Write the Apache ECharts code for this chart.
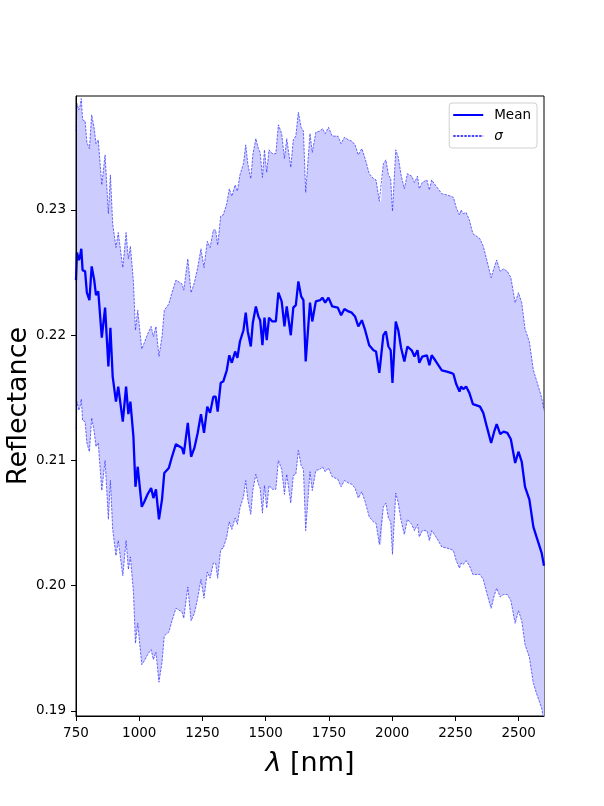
<!DOCTYPE html>
<html>
<head>
<meta charset="utf-8">
<script src="https://cdn.jsdelivr.net/npm/echarts@6/dist/echarts.min.js"></script>
<style>
  html, body { margin: 0; padding: 0; background: #fff; }
  #SpectrumChart { width: 604px; height: 806px; }
</style>
</head>
<body>
<div id="SpectrumChart"></div>
<script>
// wavelength [nm]
const wavelength = [
  750, 754, 761, 766, 771, 776, 786, 793, 803, 812,
  822, 829, 838, 852, 865, 878, 886, 895, 908, 917,
  935, 948, 957, 965, 977, 985, 994, 1010, 1020, 1033,
  1047, 1056, 1066, 1078, 1090, 1099, 1117, 1128, 1145, 1169,
  1176, 1192, 1205, 1218, 1231, 1244, 1256, 1269, 1280, 1293,
  1302, 1310, 1322, 1332, 1346, 1356, 1366, 1379, 1388, 1398,
  1412, 1421, 1429, 1441, 1449, 1461, 1471, 1478, 1487, 1495,
  1504, 1513, 1526, 1540, 1550, 1563, 1574, 1583, 1599, 1609,
  1619, 1629, 1640, 1649, 1658, 1675, 1684, 1698, 1715, 1724,
  1735, 1748, 1763, 1785, 1798, 1811, 1827, 1840, 1853, 1866,
  1880, 1893, 1909, 1926, 1936, 1949, 1956, 1965, 1975, 1985,
  1994, 2001, 2014, 2024, 2035, 2048, 2060, 2077, 2088, 2100,
  2107, 2119, 2137, 2147, 2156, 2170, 2196, 2216, 2232, 2242,
  2253, 2266, 2272, 2281, 2292, 2305, 2319, 2334, 2347, 2360,
  2374, 2391, 2403, 2413, 2427, 2440, 2455, 2469, 2486, 2499,
  2512, 2525, 2542, 2558, 2572, 2591, 2600
]

// mean reflectance
const meanRefl = [
  0.2244, 0.2266, 0.2260, 0.2263, 0.2269, 0.2252, 0.2251, 0.2234, 0.2228, 0.2255,
  0.2244, 0.2232, 0.2235, 0.2198, 0.2222, 0.2175, 0.2206, 0.2167, 0.2147, 0.2159,
  0.2131, 0.2159, 0.2137, 0.2147, 0.2119, 0.2079, 0.2095, 0.2063, 0.2067, 0.2073,
  0.2078, 0.2070, 0.2077, 0.2053, 0.2069, 0.2090, 0.2094, 0.2102, 0.2113, 0.2110,
  0.2105, 0.2130, 0.2103, 0.2110, 0.2122, 0.2137, 0.2122, 0.2143, 0.2138, 0.2151,
  0.2151, 0.2139, 0.2162, 0.2163, 0.2172, 0.2184, 0.2178, 0.2187, 0.2182, 0.2195,
  0.2204, 0.2218, 0.2203, 0.2191, 0.2210, 0.2223, 0.2215, 0.2212, 0.2192, 0.2214,
  0.2196, 0.2214, 0.2211, 0.2211, 0.2234, 0.2227, 0.2207, 0.2223, 0.2200, 0.2222,
  0.2224, 0.2243, 0.2231, 0.2228, 0.2179, 0.2226, 0.2211, 0.2227, 0.2228, 0.2230,
  0.2226, 0.2230, 0.2223, 0.2222, 0.2216, 0.2221, 0.2219, 0.2218, 0.2215, 0.2207,
  0.2212, 0.2204, 0.2192, 0.2188, 0.2187, 0.2170, 0.2170, 0.2200, 0.2203, 0.2191,
  0.2188, 0.2162, 0.2211, 0.2204, 0.2190, 0.2179, 0.2191, 0.2188, 0.2183, 0.2188,
  0.2178, 0.2183, 0.2184, 0.2176, 0.2184, 0.2180, 0.2172, 0.2171, 0.2170, 0.2169,
  0.2161, 0.2155, 0.2159, 0.2157, 0.2159, 0.2154, 0.2145, 0.2144, 0.2143, 0.2138,
  0.2127, 0.2114, 0.2123, 0.2129, 0.2121, 0.2123, 0.2122, 0.2117, 0.2098, 0.2107,
  0.2099, 0.2079, 0.2069, 0.2047, 0.2038, 0.2026, 0.2016
]

// standard deviation
const sigma = [
  0.0119, 0.0119, 0.0120, 0.0120, 0.0120, 0.0120, 0.0120, 0.0120, 0.0121, 0.0121,
  0.0121, 0.0121, 0.0121, 0.0122, 0.0122, 0.0122, 0.0122, 0.0122, 0.0123, 0.0123,
  0.0123, 0.0123, 0.0124, 0.0124, 0.0124, 0.0125, 0.0125, 0.0126, 0.0127, 0.0128,
  0.0129, 0.0129, 0.0130, 0.0130, 0.0130, 0.0130, 0.0131, 0.0131, 0.0131, 0.0131,
  0.0131, 0.0131, 0.0131, 0.0132, 0.0132, 0.0132, 0.0132, 0.0132, 0.0132, 0.0133,
  0.0133, 0.0133, 0.0133, 0.0133, 0.0133, 0.0133, 0.0133, 0.0133, 0.0133, 0.0133,
  0.0133, 0.0134, 0.0134, 0.0134, 0.0134, 0.0134, 0.0134, 0.0134, 0.0134, 0.0134,
  0.0134, 0.0134, 0.0134, 0.0134, 0.0134, 0.0134, 0.0134, 0.0134, 0.0134, 0.0134,
  0.0135, 0.0135, 0.0135, 0.0135, 0.0135, 0.0135, 0.0135, 0.0135, 0.0135, 0.0135,
  0.0135, 0.0136, 0.0136, 0.0137, 0.0137, 0.0137, 0.0137, 0.0137, 0.0137, 0.0137,
  0.0137, 0.0137, 0.0137, 0.0137, 0.0137, 0.0137, 0.0137, 0.0137, 0.0137, 0.0137,
  0.0137, 0.0137, 0.0137, 0.0138, 0.0138, 0.0138, 0.0138, 0.0139, 0.0139, 0.0139,
  0.0139, 0.0139, 0.0140, 0.0140, 0.0140, 0.0140, 0.0141, 0.0141, 0.0141, 0.0141,
  0.0141, 0.0141, 0.0141, 0.0140, 0.0139, 0.0138, 0.0136, 0.0135, 0.0134, 0.0133,
  0.0133, 0.0132, 0.0131, 0.0131, 0.0130, 0.0130, 0.0129, 0.0129, 0.0128, 0.0127,
  0.0127, 0.0126, 0.0126, 0.0125, 0.0125, 0.0124, 0.0124
]

const xTicks = [750, 1000, 1250, 1500, 1750, 2000, 2250, 2500]
const yTicks = [0.19, 0.20, 0.21, 0.22, 0.23]

const FONT = 'DejaVu Sans'

const upperRefl = meanRefl.map((m, i) => m + sigma[i])
const lowerRefl = meanRefl.map((m, i) => m - sigma[i])

const meanData = wavelength.map((w, i) => [w, meanRefl[i]])
const upperData = wavelength.map((w, i) => [w, upperRefl[i]])
const lowerData = wavelength.map((w, i) => [w, lowerRefl[i]])

const dashStyle = {
  color: 'rgba(40,40,255,0.85)',
  width: 0.8,
  type: [2.5, 1.2]
}

// filled band between mean - sigma and mean + sigma, placed with the axis scales
function renderBand(params, api) {
  const pts = []
  for (let i = 0; i < wavelength.length; i++) {
    pts.push(api.coord([wavelength[i], upperRefl[i]]))
  }
  for (let i = wavelength.length - 1; i >= 0; i--) {
    pts.push(api.coord([wavelength[i], lowerRefl[i]]))
  }
  return {
    type: 'polygon',
    shape: { points: pts },
    style: { fill: '#ccccff', stroke: null }
  }
}

const option = {
  animation: false,
  backgroundColor: '#fff',
  grid: {
    left: 76,
    right: 60,
    top: 96,
    bottom: 90,
    containLabel: false,
    outerBoundsMode: 'none',
    show: true,
    borderColor: '#000',
    borderWidth: 1,
    backgroundColor: 'transparent'
  },
  legend: {
    orient: 'vertical',
    right: 67,
    top: 103,
    data: [
      { name: 'Mean' },
      { name: 'σ', textStyle: { fontStyle: 'italic' } }
    ],
    itemWidth: 30,
    itemHeight: 12,
    itemGap: 7,
    padding: [5, 6, 5, 3],
    backgroundColor: 'rgba(255,255,255,0.8)',
    borderColor: '#d0d0d0',
    borderWidth: 1,
    borderRadius: 3,
    itemStyle: { opacity: 0 },
    textStyle: {
      fontFamily: FONT,
      fontSize: 13.5,
      color: '#000',
      padding: [0, 0, 0, 6]
    }
  },
  xAxis: {
    type: 'value',
    min: 750,
    max: 2600,
    name: '{i|λ} [nm]',
    nameLocation: 'middle',
    nameGap: 34,
    nameTextStyle: {
      fontFamily: FONT,
      fontSize: 27,
      color: '#000',
      rich: {
        i: { fontFamily: FONT, fontSize: 27, fontStyle: 'italic', color: '#000' }
      }
    },
    z: 5,
    axisLine: { show: true, lineStyle: { color: '#000', width: 1 } },
    axisTick: {
      show: true,
      length: 5,
      customValues: xTicks,
      lineStyle: { color: '#000', width: 1 }
    },
    axisLabel: {
      customValues: xTicks,
      margin: 10,
      fontFamily: FONT,
      fontSize: 13.5,
      color: '#000',
      formatter: v => String(v)
    },
    splitLine: { show: false }
  },
  yAxis: {
    type: 'value',
    min: 0.1896,
    max: 0.2391,
    name: 'Reflectance',
    nameLocation: 'middle',
    nameRotate: 90,
    nameGap: 44,
    nameMoveOverlap: false,
    nameTextStyle: {
      fontFamily: FONT,
      fontSize: 27,
      color: '#000'
    },
    z: 5,
    axisLine: { show: true, lineStyle: { color: '#000', width: 1 } },
    axisTick: {
      show: true,
      length: 5,
      customValues: yTicks,
      lineStyle: { color: '#000', width: 1 }
    },
    axisLabel: {
      customValues: yTicks,
      margin: 10,
      fontFamily: FONT,
      fontSize: 13.5,
      color: '#000',
      formatter: v => v.toFixed(2)
    },
    splitLine: { show: false }
  },
  series: [
    {
      name: 'band',
      type: 'custom',
      data: [[wavelength[0], meanRefl[0]]],
      renderItem: renderBand,
      clip: true,
      silent: true,
      z: 1
    },
    {
      name: 'σ',
      type: 'line',
      data: upperData,
      symbol: 'none',
      lineStyle: dashStyle,
      itemStyle: { color: 'rgba(40,40,255,0.85)' },
      z: 2
    },
    {
      name: 'σ',
      type: 'line',
      data: lowerData,
      symbol: 'none',
      lineStyle: dashStyle,
      itemStyle: { color: 'rgba(40,40,255,0.85)' },
      z: 2
    },
    {
      name: 'Mean',
      type: 'line',
      data: meanData,
      symbol: 'none',
      lineStyle: { color: '#0000ff', width: 2.3 },
      itemStyle: { color: '#0000ff' },
      z: 3
    }
  ]
}

const chart = echarts.init(document.getElementById('SpectrumChart'), null, { renderer: 'canvas' })
chart.setOption(option)
</script>
</body>
</html>
